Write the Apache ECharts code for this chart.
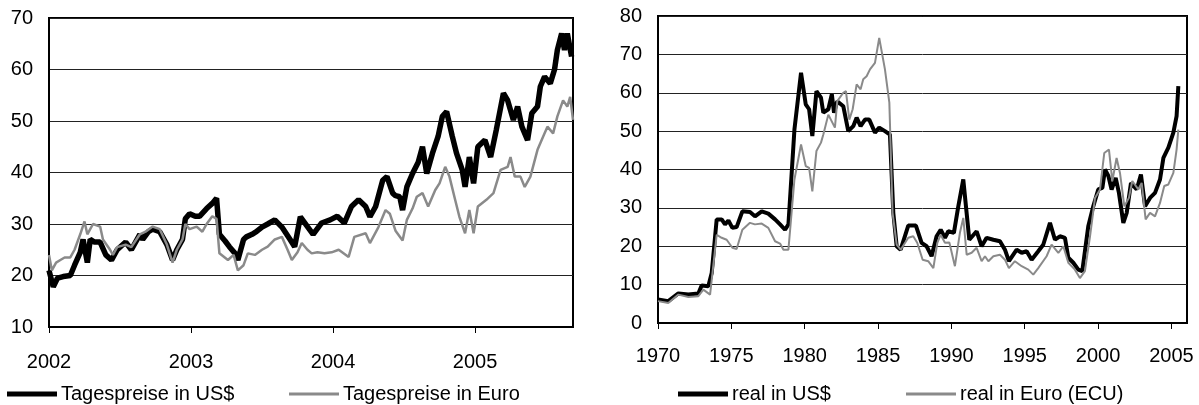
<!DOCTYPE html>
<html>
<head>
<meta charset="utf-8">
<script src="https://cdn.jsdelivr.net/npm/echarts@6/dist/echarts.min.js"></script>
<style>
  html, body { margin: 0; padding: 0; background: #fff; }
  #main { width: 1199px; height: 405px; }
</style>
</head>
<body>
<div id="main"></div>
<script>
// left: daily prices 2002 - Sep 2005 (x in decimal years)
const usdYears = [2002.00,2002.03,2002.06,2002.10,2002.15,2002.18,2002.22,2002.24,2002.27,2002.29,2002.32,2002.36,2002.40,2002.44,2002.48,2002.54,2002.58,2002.64,2002.66,2002.70,2002.73,2002.78,2002.83,2002.87,2002.90,2002.94,2002.96,2002.99,2003.03,2003.06,2003.11,2003.15,2003.18,2003.20,2003.24,2003.27,2003.31,2003.33,2003.37,2003.39,2003.43,2003.46,2003.50,2003.54,2003.59,2003.64,2003.70,2003.73,2003.77,2003.82,2003.86,2003.92,2003.98,2004.03,2004.08,2004.13,2004.18,2004.23,2004.26,2004.30,2004.35,2004.38,2004.42,2004.44,2004.47,2004.49,2004.52,2004.56,2004.60,2004.63,2004.66,2004.70,2004.74,2004.77,2004.80,2004.84,2004.87,2004.91,2004.93,2004.96,2004.99,2005.02,2005.07,2005.11,2005.15,2005.20,2005.23,2005.27,2005.30,2005.33,2005.37,2005.40,2005.44,2005.46,2005.49,2005.53,2005.56,2005.58,2005.61,2005.63,2005.65,2005.68];
const usdDaily = [21,17.8,19.5,19.8,20,22,24.5,27,22.5,27,26.5,26.5,24,23,25,26.5,25,28,27,28.5,29,28.5,26,23,25,27,31,32,31.5,31.5,33,34,35,28,26.7,25.6,24.3,23,27,27.5,28,28.5,29.4,30,30.8,29.4,26.9,25.6,31.4,29.5,28,30.2,30.8,31.5,30.2,33.4,34.7,33.4,31.4,33.4,38.5,39.2,36,35.5,35.3,32.7,37.2,39.8,42,45,39.8,43.7,47,50.9,51.8,47,43.7,40.5,37.2,43,37.9,45,46.3,43,48.3,55.4,54,50.2,52.8,48.9,46.3,51.5,52.8,56.7,58.6,57.3,60,63.8,67,63.8,67,62.5];

const euroYears = [2002.00,2002.02,2002.05,2002.08,2002.11,2002.15,2002.18,2002.22,2002.25,2002.27,2002.31,2002.36,2002.38,2002.43,2002.45,2002.48,2002.54,2002.58,2002.64,2002.68,2002.73,2002.78,2002.83,2002.87,2002.90,2002.94,2002.96,2002.99,2003.04,2003.08,2003.11,2003.15,2003.18,2003.20,2003.26,2003.30,2003.33,2003.37,2003.40,2003.45,2003.50,2003.54,2003.59,2003.64,2003.68,2003.71,2003.75,2003.78,2003.82,2003.85,2003.89,2003.94,2003.99,2004.04,2004.11,2004.15,2004.23,2004.26,2004.32,2004.37,2004.40,2004.44,2004.49,2004.52,2004.56,2004.59,2004.63,2004.67,2004.72,2004.75,2004.79,2004.82,2004.86,2004.89,2004.93,2004.96,2004.99,2005.02,2005.08,2005.13,2005.18,2005.23,2005.25,2005.28,2005.32,2005.35,2005.39,2005.44,2005.48,2005.51,2005.55,2005.58,2005.62,2005.65,2005.67,2005.69];
const euroDaily = [24,21,22.5,23,23.5,23.5,25,28,30.5,28,30,29.5,27,25,24,25.5,26,25.5,28,28.5,29.5,29,26,22.5,25,27,30,29,29.5,28.5,30,31.5,31,24.3,23,24,21,22,24.3,24,25,25.6,27,27.5,25,23,24.5,26.3,25,24.3,24.5,24.3,24.5,25,23.6,27.5,28.2,26.3,29.4,32.7,32,28.7,26.8,30.8,33,35.3,36,33.4,36.6,37.9,41.1,39.2,34.7,31.4,28.2,32.7,28.2,33.4,34.7,36,40.5,41.1,43,39.2,39.2,37.2,39.2,44.4,47,48.9,47.6,50.9,54,52.8,54.7,50.2];

// right: real prices 1970 - 2005
const realUsdYears = [1970.0,1970.70,1971.39,1972.07,1972.75,1972.98,1973.43,1973.66,1974.00,1974.34,1974.57,1974.80,1975.07,1975.36,1975.75,1976.27,1976.61,1977.07,1977.52,1977.98,1978.32,1978.66,1978.89,1979.30,1979.75,1980.07,1980.30,1980.52,1980.80,1981.11,1981.27,1981.61,1981.85,1982.00,1982.22,1982.63,1982.97,1983.31,1983.54,1983.81,1984.11,1984.40,1984.79,1985.08,1985.47,1985.81,1986.04,1986.27,1986.54,1987.06,1987.58,1987.97,1988.31,1988.65,1988.99,1989.27,1989.56,1989.79,1990.17,1990.47,1990.81,1991.22,1991.72,1992.06,1992.40,1992.86,1993.31,1993.65,1993.92,1994.45,1994.79,1995.13,1995.47,1995.92,1996.26,1996.72,1997.06,1997.40,1997.74,1997.97,1998.31,1998.65,1998.92,1999.33,1999.67,2000.01,2000.29,2000.47,2000.70,2000.92,2001.20,2001.42,2001.72,2001.95,2002.24,2002.63,2002.92,2003.20,2003.54,2003.88,2004.22,2004.45,2004.79,2005.13,2005.35,2005.47];
const realUsd = [6.1,5.7,7.7,7.4,7.7,9.8,9.6,13,27,27,25.7,26.7,24.8,25,29.1,28.9,27.8,29.1,28.5,27,25.7,24.3,25.7,50.4,65.2,57,55.7,48.7,60.4,58.7,54.8,55.7,59.6,54.8,57.8,56.5,50,51.3,53.5,51.3,53,53,49.6,50.9,50,49.1,28.7,20,19.1,25.4,25.4,20.9,20,17.4,22.6,24.3,22.2,23.9,23.5,30.4,37.4,21.7,23.9,20,22.2,21.7,21.3,19.1,16.1,19.1,18.3,18.7,16.5,18.7,20.4,26.1,21.7,22.6,22.2,17,15.7,13.9,13.5,25.2,30.4,34.8,35.2,40,38.3,34.8,37.8,33.9,26.1,28.7,36.5,34.8,38.7,30.4,32.6,33.9,37.4,43,45.7,49.6,53.9,61.7];

const realEuroYears = [1970.0,1970.70,1971.39,1972.07,1972.75,1973.09,1973.55,1974.00,1974.34,1974.68,1975.07,1975.36,1975.75,1976.27,1976.61,1977.07,1977.52,1977.98,1978.32,1978.55,1978.89,1979.30,1979.75,1980.07,1980.30,1980.52,1980.80,1981.11,1981.27,1981.61,1981.72,1982.06,1982.22,1982.63,1982.81,1983.04,1983.27,1983.54,1983.81,1983.99,1984.22,1984.45,1984.79,1985.08,1985.47,1985.77,1985.99,1986.27,1986.54,1987.06,1987.40,1987.67,1988.04,1988.42,1988.77,1989.04,1989.27,1989.56,1989.86,1990.24,1990.58,1990.81,1991.04,1991.38,1991.72,1992.06,1992.29,1992.52,1992.86,1993.31,1993.65,1993.92,1994.33,1994.79,1995.24,1995.58,1995.92,1996.49,1996.83,1997.29,1997.63,1997.97,1998.42,1998.76,1999.10,1999.45,1999.79,2000.13,2000.42,2000.74,2000.97,2001.26,2001.49,2001.79,2002.10,2002.33,2002.74,2002.97,2003.24,2003.54,2003.88,2004.22,2004.51,2004.79,2005.13,2005.35,2005.47];
const realEuro = [5.7,5.2,7.4,6.8,7.0,8.7,7.4,23,22.2,21.7,19.6,19.3,24.3,26.1,25.7,25.9,24.8,21.3,20.7,19.1,19.1,37.4,46.5,40.9,40.4,34.3,44.8,47,49.1,54.3,54.8,50.9,57.8,60,60.4,53,55.7,62.2,60.9,63.5,64.3,66.1,67.8,74.3,66.1,57.4,28.7,20.4,19.1,22.2,22.6,20.9,16.5,16.1,14.3,20.9,23,20.9,21,14.8,23.5,27.4,17.8,18.3,19.6,16.1,17.4,16.1,17.4,17.8,16.5,14.3,16.1,14.8,13.9,12.6,14.3,17.4,20.4,18.3,20,15.7,13.9,11.7,13.5,22.6,32.6,34.8,44.3,45.2,37,43,39.1,30.4,32.6,37,34.8,36.5,27,28.7,27.8,31.3,35.7,36.1,39.1,45.2,50.4];

const leftYTicks = [10, 70];
const rightYTicks = [0, 80];

function pairs(xs, ys) {
  return xs.map(function (x, i) { return [x, ys[i]]; });
}

const font = 'Liberation Sans, Arial, Helvetica, sans-serif';
const black = '#000';
const grey = '#8a8a8a';

function xAxis(gridIndex, min, max, margin) {
  return {
    type: 'value', gridIndex: gridIndex, min: min, max: max, interval: gridIndex === 0 ? 1 : 5,
    axisLine: { lineStyle: { color: black, width: 2 } },
    axisTick: { show: true, inside: false, length: 6, lineStyle: { color: black, width: 1 } },
    axisLabel: {
      color: black, fontSize: 20, fontFamily: font, margin: margin, showMaxLabel: false,
      formatter: function (v) { return Math.abs(v - Math.round(v)) < 1e-6 ? String(Math.round(v)) : ''; }
    },
    splitLine: { show: false }
  };
}

function yAxis(gridIndex, ticks) {
  return {
    type: 'value', gridIndex: gridIndex, min: ticks[0], max: ticks[1], interval: 10,
    axisLine: { show: true, lineStyle: { color: black, width: 2 } },
    axisTick: { show: false },
    axisLabel: { color: black, fontSize: 20, fontFamily: font, margin: 16 },
    splitLine: { show: true, lineStyle: { color: '#222', width: 1 } }
  };
}

function legend(left, name, h) {
  return {
    left: left, top: 384, padding: 0, itemWidth: 50, itemHeight: h, itemGap: 4,
    icon: 'rect', selectedMode: false, data: [name],
    textStyle: { color: black, fontSize: 20, fontFamily: font, padding: [0, 0, 0, -1] }
  };
}

const chart = echarts.init(document.getElementById('main'));
chart.setOption({
  animation: false,
  backgroundColor: '#fff',
  grid: [
    { left: 49, top: 18, width: 524, height: 309, show: true, borderColor: black, borderWidth: 2, containLabel: false },
    { left: 658, top: 16, width: 529, height: 307, show: true, borderColor: black, borderWidth: 2, containLabel: false }
  ],
  xAxis: [xAxis(0, 2002, 2005.69, 25), xAxis(1, 1970, 2006.06, 23)],
  yAxis: [yAxis(0, leftYTicks), yAxis(1, rightYTicks)],
  legend: [
    legend(7, 'Tagespreise in US$', 5),
    legend(289, 'Tagespreise in Euro', 3),
    legend(678, 'real in US$', 5),
    legend(906, 'real in Euro (ECU)', 3)
  ],
  series: [
    { name: 'Tagespreise in US$', type: 'line', xAxisIndex: 0, yAxisIndex: 0, data: pairs(usdYears, usdDaily),
      showSymbol: false, color: black, lineStyle: { color: black, width: 5.5 } },
    { name: 'Tagespreise in Euro', type: 'line', xAxisIndex: 0, yAxisIndex: 0, data: pairs(euroYears, euroDaily),
      showSymbol: false, color: grey, lineStyle: { color: grey, width: 2.5 } },
    { name: 'real in US$', type: 'line', xAxisIndex: 1, yAxisIndex: 1, data: pairs(realUsdYears, realUsd),
      showSymbol: false, color: black, lineStyle: { color: black, width: 4 } },
    { name: 'real in Euro (ECU)', type: 'line', xAxisIndex: 1, yAxisIndex: 1, data: pairs(realEuroYears, realEuro),
      showSymbol: false, color: grey, lineStyle: { color: grey, width: 2 } }
  ]
});
</script>
</body>
</html>
